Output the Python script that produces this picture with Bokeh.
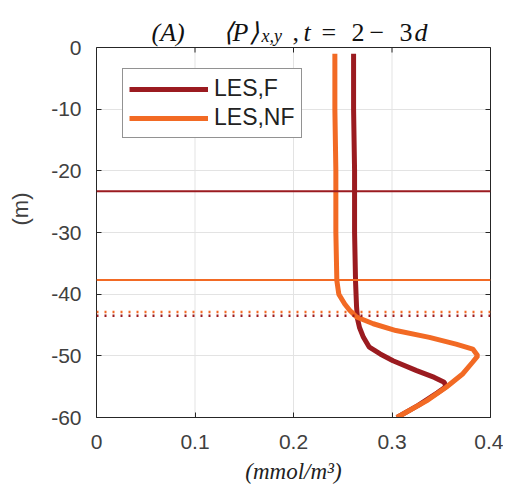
from bokeh.plotting import figure
from bokeh.models import (Span, Legend, LegendItem, LinearAxis, FixedTicker,
                          Range1d, ColumnDataSource)
from bokeh.core.properties import value
from bokeh.embed import file_html
from bokeh.resources import INLINE

# profiles: concentration (mmol/m^3) vs depth (m)
z_f = [-1, -10, -20, -30, -38, -42, -44, -45.4, -47, -48.6, -49.7, -50.8,
       -52.4, -53.5, -54.3, -55, -56, -58, -60]
p_f = [0.261, 0.261, 0.262, 0.262, 0.263, 0.264, 0.265, 0.267, 0.271, 0.277,
       0.288, 0.301, 0.325, 0.343, 0.353, 0.355, 0.346, 0.327, 0.305]

z_nf = [-1, -10, -20, -30, -37.8, -40, -41.6, -42.6, -43.7, -44.8, -45.9,
        -47, -48.1, -48.9, -50, -51, -52.9, -55.1, -57.3, -60]
p_nf = [0.242, 0.242, 0.243, 0.243, 0.244, 0.246, 0.252, 0.257, 0.264, 0.281,
        0.304, 0.338, 0.365, 0.382, 0.387, 0.382, 0.372, 0.355, 0.335, 0.305]

# mixed-layer depths (solid) and dotted reference depths
mld_f = -23.3
mld_nf = -37.7
dot_f = -43.5
dot_nf = -42.9

labels = ["LES,F", "LES,NF"]
x_ticks = [0, 0.1, 0.2, 0.3, 0.4]
x_tick_labels = ["0", "0.1", "0.2", "0.3", "0.4"]
y_ticks = [-60, -50, -40, -30, -20, -10, 0]
y_tick_labels = ["-60", "-50", "-40", "-30", "-20", "-10", "0"]

# title pieces (LaTeX-like: italic symbols, upright digits/operators),
# positioned in page pixels through a pixel range
t_text = ["(A)", "⟨P⟩", "x,y", ",", "t", "=", "2", "−", "3", "d"]
t_x = [151, 258, 261, 292, 303, 321, 351, 369, 399, 414]
t_y = [31.7, 31.7, 35.7, 31.7, 31.7, 31.7, 31.7, 31.7, 31.7, 31.7]
t_align = ["left", "right", "left", "left", "left", "left", "left", "left",
           "left", "left"]
t_size = ["26px", "26px", "18px", "26px", "26px", "26px", "26px", "26px",
          "26px", "26px"]
t_style = ["italic", "italic", "italic", "normal", "italic", "normal",
           "normal", "normal", "normal", "italic"]

c_f = "#9b1b20"
c_nf = "#f26a24"
grey = "#404040"
dark = "#262626"

W, H = 503, 487
left, right, bottom = 96, 13, 70
top_gap = 47  # space above the box, kept inside the frame for the title
frame_h = H - bottom
ymax = (y_ticks[-1] - y_ticks[0]) * top_gap / (frame_h - top_gap)

p = figure(width=W, height=H, output_backend="svg", toolbar_location=None,
           x_range=Range1d(x_ticks[0], x_ticks[-1]),
           y_range=Range1d(y_ticks[0], ymax),
           min_border_left=left, min_border_right=right, min_border_top=0,
           min_border_bottom=bottom)
p.extra_x_ranges = {"px": Range1d(left, W - right)}
p.extra_y_ranges = {"px": Range1d(frame_h, 0)}

p.outline_line_color = None

p.xgrid.visible = False
p.ygrid.ticker = FixedTicker(ticks=y_ticks)
p.ygrid.grid_line_color = "#e3e3e3"
p.segment(x0=x_ticks[1:-1], y0=y_ticks[0], x1=x_ticks[1:-1], y1=y_ticks[-1],
          line_color="#e3e3e3", line_width=1)

for ax, ticks, tl in ((p.xaxis[0], x_ticks, x_tick_labels),
                      (p.yaxis[0], y_ticks, y_tick_labels)):
    ax.ticker = FixedTicker(ticks=ticks)
    ax.major_label_overrides = dict(zip(ticks, tl))
    ax.major_tick_in = 5
    ax.major_tick_out = 0
    ax.minor_tick_line_color = None
    ax.axis_line_color = dark
    ax.major_tick_line_color = dark
    ax.major_label_text_font = "Liberation Sans"
    ax.major_label_text_font_size = "21px"
    ax.major_label_text_color = grey

p.yaxis.bounds = (y_ticks[0], y_ticks[-1])
p.xaxis.major_label_standoff = 17
p.yaxis.major_label_standoff = 15

p.xaxis.axis_label = "(mmol/m³)"
p.xaxis.axis_label_text_font = "Liberation Serif"
p.xaxis.axis_label_text_font_style = "italic"
p.xaxis.axis_label_text_font_size = "23px"
p.xaxis.axis_label_text_color = "#222222"
p.xaxis.axis_label_standoff = 7

p.yaxis.axis_label = "(m)"
p.yaxis.axis_label_text_font = "Liberation Sans"
p.yaxis.axis_label_text_font_style = "normal"
p.yaxis.axis_label_text_font_size = "22px"
p.yaxis.axis_label_text_color = grey
p.yaxis.axis_label_standoff = 15

# right side of the box, ticks only
p.add_layout(LinearAxis(ticker=FixedTicker(ticks=y_ticks),
                        bounds=(y_ticks[0], y_ticks[-1]), major_tick_in=5,
                        major_tick_out=0, minor_tick_line_color=None,
                        major_label_text_font_size="1px",
                        major_label_text_color=None, major_label_standoff=0,
                        axis_line_color=dark, major_tick_line_color=dark),
             "right")
# top side of the box with its inward ticks
p.add_layout(Span(location=y_ticks[-1], dimension="width", line_color=dark,
                  line_width=1))
p.segment(x0=x_ticks, y0=y_ticks[-1], x1=x_ticks,
          y1=y_ticks[-1] - 5 * (ymax - y_ticks[0]) / frame_h,
          line_color=dark, line_width=1)

# depth markers
p.add_layout(Span(location=mld_f, dimension="width", line_color=c_f, line_width=2))
p.add_layout(Span(location=mld_nf, dimension="width", line_color=c_nf, line_width=2))
p.add_layout(Span(location=dot_nf, dimension="width", line_color=c_nf,
                  line_width=2.5, line_dash="2 6"))
p.add_layout(Span(location=dot_f, dimension="width", line_color=c_f,
                  line_width=2.5, line_dash="2 6"))

r_f = p.line(p_f, z_f, line_color=c_f, line_width=5)
r_nf = p.line(p_nf, z_nf, line_color=c_nf, line_width=5)

legend = Legend(items=[LegendItem(label=labels[0], renderers=[r_f]),
                       LegendItem(label=labels[1], renderers=[r_nf])],
                location=(26, 279), border_line_color=dark,
                border_line_width=1, background_fill_alpha=1,
                label_text_font="Liberation Sans", label_text_font_size="23px",
                label_text_color="#222222", glyph_width=79, glyph_height=20,
                label_standoff=6, spacing=2, padding=6, margin=0)
p.add_layout(legend, "center")

# title
p.text(x="x", y="y", text="text", text_font=value("Liberation Serif"),
       text_font_size="size", text_font_style="style", text_align="align",
       text_color="#111111", text_baseline="alphabetic",
       x_range_name="px", y_range_name="px",
       source=ColumnDataSource(dict(x=t_x, y=t_y, text=t_text, size=t_size,
                                    style=t_style, align=t_align)))

open("out.html", "w").write(file_html(p, INLINE))
